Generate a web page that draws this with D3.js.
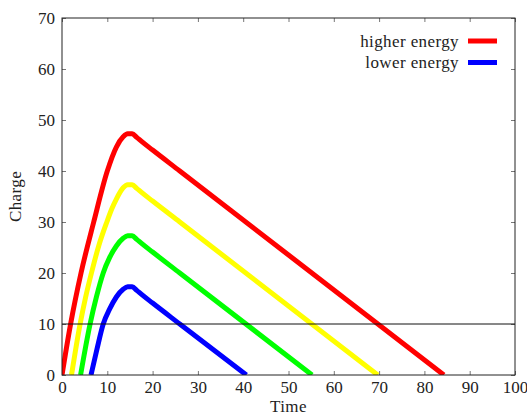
<!DOCTYPE html>
<html>
<head>
<meta charset="utf-8">
<script src="https://cdn.jsdelivr.net/npm/d3@7"></script>
<style>
  html, body { margin: 0; padding: 0; background: #fff; }
  svg { display: block; }
  text { font-family: "Liberation Serif", "DejaVu Serif", serif; fill: #222; }
</style>
</head>
<body>
<svg id="chart" width="527" height="417"></svg>
<script>
// Charge over time, one curve per energy level: [time, charge]
const redCharge    = [[0,0],[1.9,10],[4.2,20],[7,30],[10,40],[12,44.7],[13.5,46.7],[14.5,47.3],[15.5,47.3],[16.5,46.6],[17.5,45.85],[20,44.1],[26,40.0],[84.3,0]];
const yellowCharge = [[2.1,0],[4,10],[5.2,15.2],[6.5,20],[8.1,25.3],[9.9,30],[11,32.6],[12,34.5],[13.5,36.7],[14.5,37.3],[15.5,37.3],[16.5,36.6],[17.5,35.85],[20,34.1],[26,30.0],[69.7,0]];
const greenCharge  = [[4.1,0],[6.2,10],[7.6,15.3],[9.1,20],[10.5,23.0],[12,25.3],[13.5,26.8],[14.5,27.3],[15.5,27.3],[16.5,26.6],[17.5,25.85],[20,24.1],[26,20.0],[55.2,0]];
const blueCharge   = [[6.4,0],[7.7,5],[9.1,10],[10.5,12.9],[12,15.3],[13.5,16.8],[14.5,17.3],[15.5,17.3],[16.5,16.6],[17.5,15.85],[20,14.1],[26,10.0],[40.7,0]];

const seriesColors = ["#ff0000", "#ffff00", "#00ff00", "#0000ff"];
const thresholdCharge = 10;

const legendLabels = ["higher energy", "lower energy"];
const legendColors = ["#ff0000", "#0000ff"];

const xTicks = [0,10,20,30,40,50,60,70,80,90,100];
const yTicks = [0,10,20,30,40,50,60,70];
const xLabel = "Time";
const yLabel = "Charge";

const svg = d3.select("#chart");
const margin = { left: 62, right: 12, top: 18, bottom: 42 };
const W = 527, H = 417;
const fontSize = 17;

const x = d3.scaleLinear().domain([0, 100]).range([margin.left, W - margin.right]);
const y = d3.scaleLinear().domain([0, 70]).range([H - margin.bottom, margin.top]);

// clip curves to the plotting area
svg.append("defs").append("clipPath").attr("id", "plotClip")
  .append("rect")
  .attr("x", x(0)).attr("y", y(70))
  .attr("width", x(100) - x(0)).attr("height", y(0) - y(70));

const tickColor = "#777";
function styleAxis(g, showLabels) {
  g.select(".domain").remove();
  g.selectAll(".tick line").attr("stroke", tickColor).attr("stroke-width", 1);
  g.selectAll(".tick text")
    .attr("font-family", "'Liberation Serif', 'DejaVu Serif', serif")
    .attr("font-size", fontSize)
    .attr("fill", "#222");
  if (!showLabels) g.selectAll(".tick text").remove();
}

// bottom / top axes with inward ticks
svg.append("g").attr("transform", `translate(0,${y(0)})`)
  .call(d3.axisBottom(x).tickValues(xTicks).tickSize(-4).tickPadding(6))
  .call(g => styleAxis(g, true));
svg.append("g").attr("transform", `translate(0,${y(70)})`)
  .call(d3.axisTop(x).tickValues(xTicks).tickSize(-4))
  .call(g => styleAxis(g, false));

// left / right axes with inward ticks
svg.append("g").attr("transform", `translate(${x(0)},0)`)
  .call(d3.axisLeft(y).tickValues(yTicks).tickSize(-4).tickPadding(7))
  .call(g => styleAxis(g, true));
svg.append("g").attr("transform", `translate(${x(100)},0)`)
  .call(d3.axisRight(y).tickValues(yTicks).tickSize(-4))
  .call(g => styleAxis(g, false));

// curves
const line = d3.line()
  .x(d => x(d[0]))
  .y(d => y(d[1]))
  .curve(d3.curveMonotoneX);

const plot = svg.append("g").attr("clip-path", "url(#plotClip)");
[redCharge, yellowCharge, greenCharge, blueCharge].forEach((s, i) => {
  plot.append("path")
    .attr("d", line(s))
    .attr("fill", "none")
    .attr("stroke", seriesColors[i])
    .attr("stroke-width", 5)
    .attr("stroke-linejoin", "round");
});

// threshold line
svg.append("line")
  .attr("x1", x(0)).attr("x2", x(100))
  .attr("y1", y(thresholdCharge)).attr("y2", y(thresholdCharge))
  .attr("stroke", "#111").attr("stroke-width", 1);

// frame
svg.append("rect")
  .attr("x", x(0)).attr("y", y(70))
  .attr("width", x(100) - x(0)).attr("height", y(0) - y(70))
  .attr("fill", "none").attr("stroke", "#222").attr("stroke-width", 1);

// legend
const legend = svg.append("g");
legendLabels.forEach((label, i) => {
  const cy = 41 + i * 21.5;
  legend.append("text")
    .attr("x", 459).attr("y", cy + 5.5)
    .attr("text-anchor", "end")
    .attr("font-size", fontSize)
    .attr("letter-spacing", 0.4)
    .text(label);
  legend.append("line")
    .attr("x1", 468).attr("x2", 497)
    .attr("y1", cy).attr("y2", cy)
    .attr("stroke", legendColors[i]).attr("stroke-width", 5);
});

// axis titles
svg.append("text")
  .attr("x", (x(0) + x(100)) / 2).attr("y", 412)
  .attr("text-anchor", "middle")
  .attr("font-size", fontSize)
  .attr("letter-spacing", 0.4)
  .text(xLabel);
svg.append("text")
  .attr("transform", `translate(21,${(y(0) + y(70)) / 2}) rotate(-90)`)
  .attr("text-anchor", "middle")
  .attr("font-size", fontSize)
  .attr("letter-spacing", 0.4)
  .text(yLabel);
</script>
</body>
</html>
